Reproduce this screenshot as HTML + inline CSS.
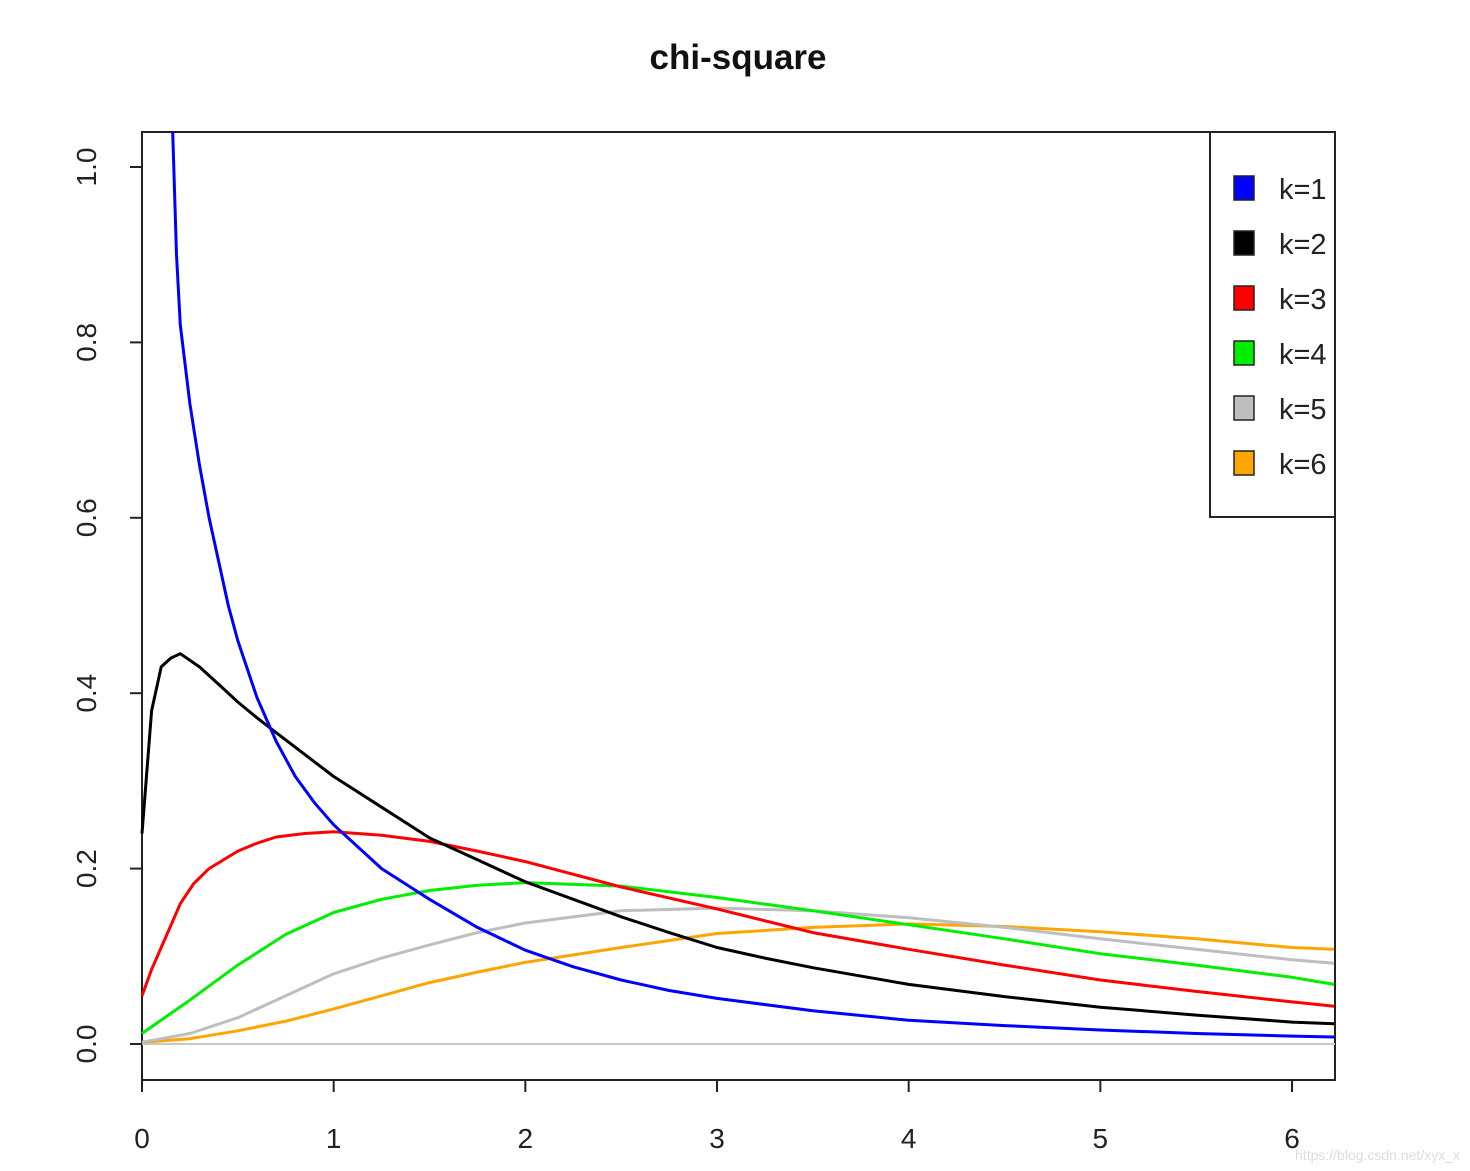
<!DOCTYPE html>
<html><head><meta charset="utf-8"><style>
html,body{margin:0;padding:0;background:#fff;}
svg{display:block;font-family:"Liberation Sans",Arial,sans-serif;}
</style></head><body>
<svg id="chart" width="1470" height="1171" viewBox="0 0 1470 1171" xmlns="http://www.w3.org/2000/svg">
<text x="738" y="69" text-anchor="middle" font-size="35" font-weight="bold" fill="#111">chi-square</text>
<rect x="142" y="132" width="1193" height="948" fill="none" stroke="#222" stroke-width="2"/>
<line x1="142" y1="1044" x2="1335" y2="1044" stroke="#c8c8c8" stroke-width="2"/>
<g id="axes"></g>
<g id="series"></g>
<g>
<rect x="1210" y="132" width="125" height="385" fill="#fff" stroke="#222" stroke-width="2"/>
<g id="legend-items"></g>
</g>
<text x="1460" y="1160" text-anchor="end" font-size="14" fill="#ddd">https://blog.csdn.net/xyx_x</text>
</svg>
<script>
const xTicks = [0,1,2,3,4,5,6];
const yTicks = [0.0,0.2,0.4,0.6,0.8,1.0];
const seriesNames = ["k=1","k=2","k=3","k=4","k=5","k=6"];
const seriesColors = ["#0000ff","#000000","#ff0000","#00ee00","#bebebe","#ffa500"];
const xK1 = [0.16,0.18,0.2,0.25,0.3,0.35,0.4,0.45,0.5,0.6,0.7,0.8,0.9,1.0,1.25,1.5,1.75,2.0,2.25,2.5,2.75,3.0,3.5,4.0,4.5,5.0,5.5,6.0,6.22];
const yK1 = [1.04,0.9,0.82,0.73,0.66,0.6,0.55,0.5,0.46,0.395,0.345,0.305,0.275,0.25,0.2,0.165,0.133,0.107,0.088,0.073,0.061,0.052,0.038,0.027,0.021,0.016,0.012,0.009,0.008];
const xK2 = [0,0.05,0.1,0.15,0.2,0.3,0.4,0.5,0.6,0.7,0.85,1.0,1.25,1.5,1.75,2,2.25,2.5,2.75,3,3.25,3.5,4,4.5,5,5.5,6,6.22];
const yK2 = [0.24,0.38,0.43,0.44,0.445,0.43,0.41,0.39,0.372,0.355,0.33,0.305,0.27,0.235,0.21,0.185,0.165,0.145,0.127,0.11,0.098,0.087,0.068,0.054,0.042,0.033,0.025,0.023];
const xK3 = [0,0.05,0.1,0.15,0.2,0.27,0.35,0.5,0.6,0.7,0.85,1.0,1.25,1.5,1.75,2,2.5,3,3.5,4,4.5,5,5.5,6,6.22];
const yK3 = [0.055,0.085,0.11,0.135,0.16,0.183,0.2,0.22,0.229,0.236,0.24,0.242,0.238,0.231,0.22,0.208,0.179,0.154,0.127,0.108,0.09,0.073,0.06,0.048,0.043];
const xK4 = [0,0.25,0.5,0.75,1,1.25,1.5,1.75,2,2.5,3,3.5,4,4.5,5,5.5,6,6.22];
const yK4 = [0.012,0.05,0.09,0.125,0.15,0.165,0.175,0.181,0.184,0.18,0.167,0.152,0.136,0.12,0.103,0.09,0.076,0.068];
const xK5 = [0,0.25,0.5,0.75,1,1.25,1.5,1.75,2,2.5,3,3.5,4,4.5,5,5.5,6,6.22];
const yK5 = [0.002,0.012,0.03,0.055,0.08,0.098,0.113,0.127,0.138,0.152,0.155,0.152,0.144,0.133,0.12,0.108,0.096,0.092];
const xK6 = [0,0.25,0.5,0.75,1,1.25,1.5,1.75,2,2.5,3,3.5,4,4.5,5,5.5,6,6.22];
const yK6 = [0.002,0.006,0.015,0.026,0.04,0.055,0.07,0.082,0.093,0.11,0.126,0.133,0.137,0.134,0.128,0.12,0.11,0.108];

const NS="http://www.w3.org/2000/svg";
const X = v => 142 + v*191.67;
const Y = v => 1044 - v*877;
function mk(tag, attrs, parent){const e=document.createElementNS(NS,tag);for(const k in attrs)e.setAttribute(k,attrs[k]);parent.appendChild(e);return e;}
const axes=document.getElementById('axes');
xTicks.forEach(t=>{
  const l=mk('line',{x1:X(t),y1:1080,x2:X(t),y2:1092,stroke:'#222','stroke-width':2},axes);
  
  
  const tx=mk('text',{x:X(t),y:1148,'text-anchor':'middle','font-size':28,fill:'#222'},axes);
  
  
  tx.textContent=String(t);
});
yTicks.forEach(t=>{
  const l=mk('line',{x1:130,y1:Y(t),x2:142,y2:Y(t),stroke:'#222','stroke-width':2},axes);
  
  
  const tx=mk('text',{x:0,y:0,transform:`translate(96,${Y(t)}) rotate(-90)`,'text-anchor':'middle','font-size':28,fill:'#222'},axes);
  
  
  tx.textContent=t.toFixed(1);
});
const xs=[xK1,xK2,xK3,xK4,xK5,xK6], ys=[yK1,yK2,yK3,yK4,yK5,yK6];
const sg=document.getElementById('series');
for(let i=5;i>=0;i--){
  const d=xs[i].map((x,j)=>(j?'L':'M')+X(x).toFixed(1)+','+Y(ys[i][j]).toFixed(1)).join(' ');
  const p=mk('path',{d:d,fill:'none',stroke:seriesColors[i],'stroke-width':3,'stroke-linejoin':'round'},sg);
  
  
}
const lg=document.getElementById('legend-items');
seriesNames.forEach((n,i)=>{
  const cy=188+i*55;
  const r=mk('rect',{x:1234,y:cy-12,width:20,height:24,fill:seriesColors[i],stroke:'#222','stroke-width':1.5},lg);
  
  
  const t=mk('text',{x:1279,y:cy+11,'font-size':29,fill:'#222'},lg);
  
  
  t.textContent=n;
});
</script>
</body></html>
